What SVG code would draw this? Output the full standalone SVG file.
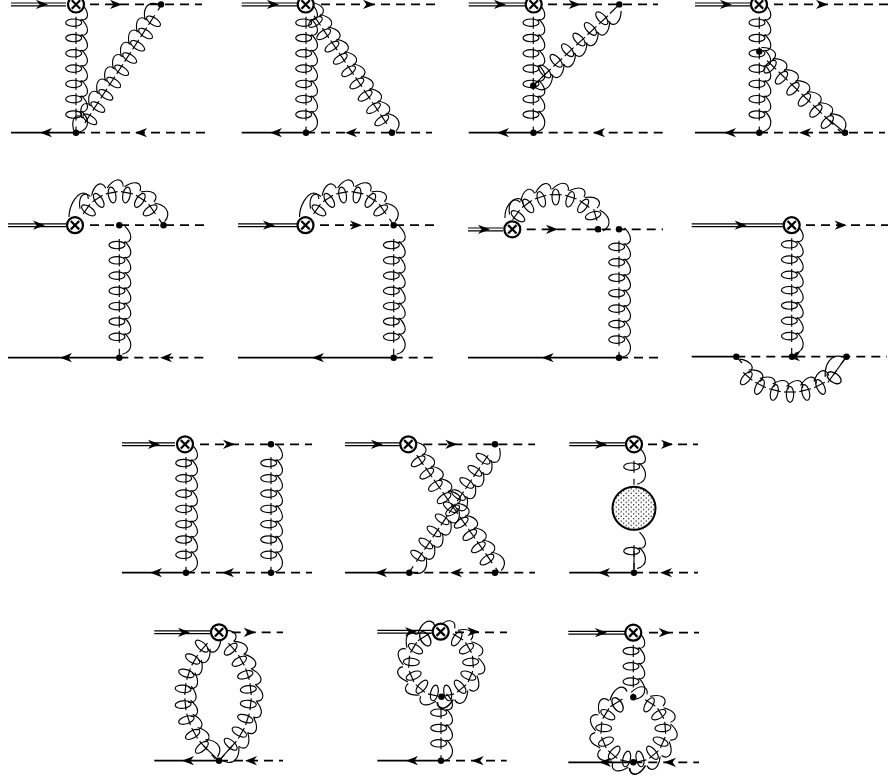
<svg xmlns="http://www.w3.org/2000/svg" width="888" height="778" viewBox="0 0 888 778">
<style>
.g{fill:none;stroke:#000;stroke-width:1.15}
.s{fill:none;stroke:#000;stroke-width:1.8}
.d{fill:none;stroke:#000;stroke-width:1.7;stroke-dasharray:9 6}
.w{fill:none;stroke:#000;stroke-width:1.2}
.x{fill:#fff;stroke:#000;stroke-width:2.2}
.k{fill:none;stroke:#000;stroke-width:2.2}
</style>
<defs>
<path id="ar" d="M0,0L-12,-4.6L-8.5,0L-12,4.6Z" fill="#000"/>
<path id="al" d="M0,0L12,-4.6L8.5,0L12,4.6Z" fill="#000"/>
<circle id="v" r="3.2" fill="#000"/>
<g id="ox"><circle class="x" r="8"/><path class="k" d="M-4.2,-4.2L4.2,4.2M-4.2,4.2L4.2,-4.2"/></g>
<path id="a" class="g" d="M-3.5,-5.5C0,-9 4,-11.5 7.5,-11.5C11,-11.5 13.5,-8.5 12.5,-4"/>
<ellipse id="e" class="g" cx="0" cy="2.3" rx="3.7" ry="8"/>
<g id="c"><use href="#e"/><path class="g" d="M-6,0H6"/><use href="#a"/></g>
<g id="l"><use href="#e"/><path class="g" d="M-6,0H6M12,0H18M-3.5,-5.5C0,-9 4,-11.5 8,-11.5C12,-11.5 16,-9 17.5,-3"/></g>
<g id="n1"><use href="#a"/><use href="#l" x="15.3"/></g>
<g id="n3"><use href="#a"/><use href="#c" x="15.3"/><use href="#c" x="30.6"/><use href="#l" x="45.9"/></g>
<g id="n5"><use href="#a"/><use href="#c" x="15.3"/><use href="#c" x="30.6"/><use href="#c" x="45.9"/><use href="#c" x="61.2"/><use href="#c" x="76.5"/></g>
<g id="n6"><use href="#n5"/><use href="#l" x="91.8"/></g>
<g id="n7"><use href="#n5"/><use href="#c" x="91.8"/><use href="#l" x="107.1"/></g>
<g id="n9"><use href="#n5"/><use href="#c" x="91.8"/><use href="#c" x="107.1"/><use href="#c" x="122.4"/><use href="#l" x="137.7"/></g>
<g id="top6">
<path class="g" d="M-50.3,-15C-50.3,-25 -44,-38 -36,-39C-33,-39 -31,-37 -31,-33"/>
<use href="#c" transform="rotate(-55) translate(0,-40)"/><use href="#c" transform="rotate(-33) translate(0,-40)"/><use href="#c" transform="rotate(-11) translate(0,-40)"/><use href="#c" transform="rotate(11) translate(0,-40)"/><use href="#c" transform="rotate(33) translate(0,-40)"/><use href="#l" transform="rotate(55) translate(0,-40)"/>
</g>
<g id="ring">
<use href="#a" transform="rotate(2) translate(0,-32)"/><use href="#a" transform="rotate(166) translate(0,-32)"/>
<use href="#c" transform="rotate(32) translate(0,-32)"/><use href="#c" transform="rotate(59) translate(0,-32)"/><use href="#c" transform="rotate(86) translate(0,-32)"/><use href="#c" transform="rotate(113) translate(0,-32)"/><use href="#c" transform="rotate(140) translate(0,-32)"/><use href="#c" transform="rotate(167) translate(0,-32)"/>
<use href="#c" transform="rotate(193) translate(0,-32)"/><use href="#c" transform="rotate(220) translate(0,-32)"/><use href="#c" transform="rotate(247) translate(0,-32)"/><use href="#c" transform="rotate(274) translate(0,-32)"/><use href="#c" transform="rotate(301) translate(0,-32)"/><use href="#c" transform="rotate(328) translate(0,-32) scale(1.2,1)"/>
</g>
<pattern id="dots" width="5" height="4.6" patternUnits="userSpaceOnUse"><circle cx="1.2" cy="1.1" r=".7" fill="#000"/><circle cx="3.7" cy="3.4" r=".7" fill="#000"/></pattern>
</defs>

<g id="connectors">
<!-- row 1 -->
<path class="w" d="M11,3H66M11,5.8H66M241.7,3H298M241.7,5.8H298M468.7,3H525M468.7,5.8H525M695,3H751M695,5.8H751"/>
<path class="d" d="M90,4.4H202M321,4.4H435M548,4.4H658M774,4.4H888"/>
<path class="s" d="M11,132.7H76M241.7,132.7H306M468.7,132.7H533.7M695,132.7H759"/>
<path class="d" d="M76,132.7H205M306,132.7H432M533.7,132.7H662.7M759,132.7H885"/>
<use href="#ar" x="48" y="4.4"/><use href="#ar" x="122" y="4.4"/><use href="#al" x="40" y="132.7"/><use href="#al" x="135" y="132.7"/>
<use href="#ar" x="279" y="4.4"/><use href="#ar" x="375" y="4.4"/><use href="#al" x="270" y="132.7"/><use href="#al" x="345" y="132.7"/>
<use href="#ar" x="506" y="4.4"/><use href="#ar" x="580.7" y="4.4"/><use href="#al" x="497" y="132.7"/><use href="#al" x="593" y="132.7"/>
<use href="#ar" x="732" y="4.4"/><use href="#ar" x="828" y="4.4"/><use href="#al" x="724" y="132.7"/><use href="#al" x="799" y="132.7"/>
<use href="#n7" transform="translate(76,7.4) rotate(90)"/>
<use href="#n9" transform="translate(80,130.3) rotate(-57) scale(.955,1)"/>
<use href="#n7" transform="translate(306,7.4) rotate(90)"/>
<use href="#n9" transform="translate(309,8.4) rotate(56) scale(.97,1)"/>
<use href="#n7" transform="translate(533.3,7.4) rotate(90)"/>
<use href="#n6" transform="translate(614.8,9.3) rotate(137) scale(1.02,1)"/>
<path class="g" d="M619.3,4.3L610,13.5M546,73.3L533.3,85.7"/>
<use href="#n7" transform="translate(759.3,7.4) rotate(90)"/>
<use href="#n6" transform="translate(760.2,54) rotate(44) scale(1.04,1)"/>
<path class="g" d="M829.3,120L845,132.7"/>

<!-- row 2 -->
<path class="w" d="M8,223.8H66M8,226.6H66M238,223.8H297M238,226.6H297M468,228H503M468,230.8H503M691.7,223.8H783M691.7,226.6H783"/>
<path class="d" d="M90,225.2H205M320,225.2H435M526.7,229.3H663M806,225.2H888"/>
<path class="s" d="M8,357.7H119.3M238,357.7H393.7M468,357.7H619M691.7,356.7H736.3"/>
<path class="d" d="M119.3,357.7H209M393.7,357.7H435M619,357.7H659M736.3,356.7H887"/>
<use href="#ar" x="45" y="225.2"/><use href="#al" x="60" y="357.7"/><use href="#al" x="160" y="357.7"/>
<use href="#ar" x="275" y="225.2"/><use href="#ar" x="362" y="225.2"/><use href="#al" x="312" y="357.7"/>
<use href="#ar" x="490" y="229.3"/><use href="#ar" x="558" y="229.3"/><use href="#al" x="541.7" y="357.7"/>
<use href="#ar" x="746.7" y="225.2"/><use href="#ar" x="846.7" y="225.2"/><use href="#al" x="788" y="356.7"/>
<use href="#n7" transform="translate(119.3,229.7) rotate(90)"/>
<use href="#top6" transform="translate(119.3,232)"/>
<use href="#n7" transform="translate(393.7,229.7) rotate(90)"/>
<use href="#top6" transform="translate(349.8,232)"/>
<use href="#n7" transform="translate(619,231.4) rotate(90) scale(1.01,1)"/>
<g transform="translate(555.7,243.7)">
<use href="#c" transform="rotate(-54) translate(0,-49)"/><use href="#c" transform="rotate(-36) translate(0,-49)"/><use href="#c" transform="rotate(-18) translate(0,-49)"/><use href="#c" transform="translate(0,-49)"/><use href="#c" transform="rotate(18) translate(0,-49)"/><use href="#c" transform="rotate(36) translate(0,-49)"/><use href="#l" transform="rotate(54) translate(0,-49) rotate(20)"/>
</g>
<path class="g" d="M505,218C504.5,208 511,199 518,198.5C521,198.5 523,200 523,204"/>
<use href="#n7" transform="translate(791.7,229) rotate(90)"/>
<g transform="translate(790,327)">
<use href="#a" transform="rotate(54) translate(0,65)"/>
<use href="#c" transform="rotate(40.5) translate(0,65)"/><use href="#c" transform="rotate(27) translate(0,65)"/><use href="#c" transform="rotate(13.5) translate(0,65)"/><use href="#c" transform="translate(0,65)"/><use href="#c" transform="rotate(-13.5) translate(0,65)"/><use href="#c" transform="rotate(-27) translate(0,65)"/><use href="#l" transform="rotate(-40.5) translate(0,65) rotate(-14) scale(1.25,1)"/>
</g>
<path class="g" d="M736.3,356.7L742,363M833.3,375L846.5,356.7"/>

<!-- row 3 -->
<path class="w" d="M122,442.9H175M122,445.7H175M345,442.9H400M345,445.7H400M569.3,442.9H625M569.3,445.7H625"/>
<path class="d" d="M200,444.3H312M423.3,444.3H535M648,444.3H698"/>
<path class="s" d="M122,572.7H186M345,572.7H409.3M569.3,572.7H634"/>
<path class="d" d="M186,572.7H312M409.3,572.7H535M634,572.7H698"/>
<use href="#ar" x="160" y="444.3"/><use href="#ar" x="235" y="444.3"/><use href="#al" x="150" y="572.7"/><use href="#al" x="222" y="572.7"/>
<use href="#ar" x="383" y="444.3"/><use href="#ar" x="457.3" y="444.3"/><use href="#al" x="375" y="572.7"/><use href="#al" x="450" y="572.7"/>
<use href="#ar" x="607" y="444.3"/><use href="#ar" x="673" y="444.3"/><use href="#al" x="598" y="572.7"/><use href="#al" x="660" y="572.7"/>
<use href="#n7" transform="translate(186,447.7) rotate(90)"/>
<use href="#n7" transform="translate(271,447.7) rotate(90)"/>
<use href="#n9" transform="translate(411.5,447.7) rotate(55) scale(.98,1)"/>
<use href="#n9" transform="translate(493.1,447.9) rotate(124) scale(.955,1)"/>
<use href="#n1" transform="translate(634,451.4) rotate(90)"/>
<use href="#n1" transform="translate(634,535.7) rotate(90)"/>
<path class="g" d="M634,551V572"/>

<!-- row 4 -->
<path class="w" d="M154.3,630.9H210M154.3,633.7H210M377.3,630.3H433M377.3,633.1H433M568.3,631.3H625M568.3,634.1H625"/>
<path class="d" d="M231.7,632.3H283M455,632.3H507M649,632.7H699"/>
<path class="s" d="M154.3,760.7H219M377.3,760.7H441M568.3,762.3H633.3"/>
<path class="d" d="M219,760.7H283M441,760.7H506.7M633.3,762.3H699"/>
<use href="#ar" x="190" y="632.3"/><use href="#ar" x="255.7" y="632.3"/><use href="#al" x="182" y="760.7"/><use href="#al" x="245" y="760.7"/>
<use href="#ar" x="417" y="631.7"/><use href="#ar" x="479.3" y="631.7"/><use href="#al" x="406" y="760.7"/><use href="#al" x="471.7" y="760.7"/>
<use href="#ar" x="607" y="632.7"/><use href="#ar" x="670.7" y="632.7"/><use href="#al" x="599" y="762.3"/><use href="#al" x="664" y="762.3"/>
<g transform="translate(177,696.7)">
<use href="#a" transform="rotate(36.6) translate(0,-74)"/>
<use href="#c" transform="rotate(48.5) translate(0,-74)"/><use href="#c" transform="rotate(60.4) translate(0,-74)"/><use href="#c" transform="rotate(72.2) translate(0,-74)"/><use href="#c" transform="rotate(84.1) translate(0,-74)"/><use href="#c" transform="rotate(95.9) translate(0,-74)"/><use href="#c" transform="rotate(107.8) translate(0,-74)"/><use href="#c" transform="rotate(119.6) translate(0,-74)"/><use href="#l" transform="rotate(131.5) translate(0,-74)"/>
</g>
<g transform="translate(259,696.7)">
<use href="#a" transform="rotate(143.4) translate(0,74)"/>
<use href="#c" transform="rotate(131.5) translate(0,74)"/><use href="#c" transform="rotate(119.6) translate(0,74)"/><use href="#c" transform="rotate(107.8) translate(0,74)"/><use href="#c" transform="rotate(95.9) translate(0,74)"/><use href="#c" transform="rotate(84.1) translate(0,74)"/><use href="#c" transform="rotate(72.2) translate(0,74)"/><use href="#c" transform="rotate(60.4) translate(0,74)"/><use href="#l" transform="rotate(48.5) translate(0,74)"/>
</g>
<path class="g" d="M203.6,745.8L219,760.7M232.4,745.7L219,760.7"/>
<use href="#ring" transform="translate(441,664)"/>
<use href="#n3" transform="translate(441,697.4) rotate(90)"/>
<use href="#ring" transform="translate(633.3,730)"/>
<use href="#n3" transform="translate(633.3,635.7) rotate(90)"/>
</g>

<g id="op-1"><use href="#ox" x="76" y="4.5"/></g>
<g id="op-2"><use href="#ox" x="305.7" y="4.5"/></g>
<g id="op-3"><use href="#ox" x="533.7" y="4.5"/></g>
<g id="op-4"><use href="#ox" x="759" y="4.5"/></g>
<g id="op-5"><use href="#ox" x="75" y="225.2"/></g>
<g id="op-6"><use href="#ox" x="305.5" y="225.2"/></g>
<g id="op-7"><use href="#ox" x="512.3" y="229.3"/></g>
<g id="op-8"><use href="#ox" x="791.7" y="225.2"/></g>
<g id="op-9"><use href="#ox" x="185" y="444.3"/></g>
<g id="op-10"><use href="#ox" x="408.3" y="444.3"/></g>
<g id="op-11"><use href="#ox" x="634" y="444.3"/></g>
<g id="op-12"><use href="#ox" x="219" y="632.3"/></g>
<g id="op-13"><use href="#ox" x="440.7" y="631.7"/></g>
<g id="op-14"><use href="#ox" x="633.3" y="632.7"/></g>
<g id="blob"><circle cx="634" cy="508.3" r="21.5" fill="#fff"/><circle cx="634" cy="508.3" r="21.5" fill="url(#dots)" stroke="#000" stroke-width="2"/></g>
<g id="vertices">
<use href="#v" x="161" y="4.4"/><use href="#v" x="76" y="132.7"/>
<use href="#v" x="306" y="132.7"/><use href="#v" x="392" y="132.7"/>
<use href="#v" x="619.3" y="4.4"/><use href="#v" x="533.3" y="85.7"/><use href="#v" x="533.5" y="132.7"/>
<use href="#v" x="759.3" y="51.5"/><use href="#v" x="759.3" y="132.7"/><use href="#v" x="845" y="132.7"/>
<use href="#v" x="119.3" y="225.2"/><use href="#v" x="163.5" y="225.2"/><use href="#v" x="119.3" y="357.7"/>
<use href="#v" x="393.7" y="225.2"/><use href="#v" x="393.7" y="357.7"/>
<use href="#v" x="598" y="229.3"/><use href="#v" x="619" y="229.3"/><use href="#v" x="619" y="357.7"/>
<use href="#v" x="736.3" y="356.7"/><use href="#v" x="792" y="356.7"/><use href="#v" x="846.5" y="356.7"/>
<use href="#v" x="271" y="444.3"/><use href="#v" x="186" y="572.7"/><use href="#v" x="271" y="572.7"/>
<use href="#v" x="495" y="444.3"/><use href="#v" x="409.3" y="572.7"/><use href="#v" x="495" y="572.7"/>
<use href="#v" x="634" y="572.7"/>
<use href="#v" x="219" y="760.7"/>
<use href="#v" x="441.5" y="696.7"/><use href="#v" x="441" y="760.7"/>
<use href="#v" x="633.3" y="697.3"/><use href="#v" x="633.3" y="762.3"/>
</g>
</svg>
